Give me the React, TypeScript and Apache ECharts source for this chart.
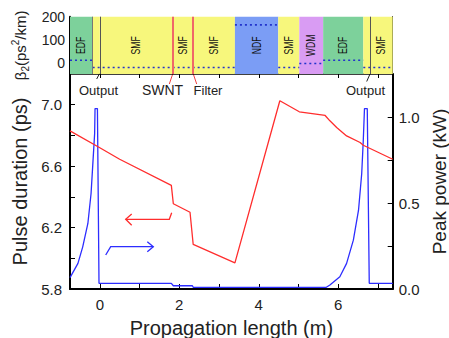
import React, { useEffect, useRef } from 'react';
import * as echarts from 'echarts';

// ---- axes ----
const X_MIN = -0.75;
const X_MAX = 7.37;
const xTicks = [0, 1, 2, 3, 4, 5, 6, 7];
const xLabels = [0, 2, 4, 6];
const durTicks = [5.8, 6.0, 6.2, 6.4, 6.6, 6.8, 7.0];
const durLabels = [5.8, 6.2, 6.6, 7.0];
const powTicks = [0, 0.25, 0.5, 0.75, 1.0];
const powLabels = [0, 0.5, 1.0];
const betaLabels = [0, 100, 200];
const betaTicksRight = [0, 50, 100, 150];

// ---- pulse duration (ps) ----
const pulseX = [-0.75, 0, 0.5, 1.8, 1.85, 2.27, 2.35, 3.4, 4.53, 5.02, 5.67, 5.79, 5.96, 6.21, 6.55, 6.63, 7.37];
const pulseY = [6.83, 6.72, 6.645, 6.475, 6.355, 6.3, 6.09, 5.97, 7.026, 6.954, 6.93, 6.895, 6.852, 6.797, 6.754, 6.736, 6.645];

// ---- peak power (kW) ----
const powerX = [-0.75, -0.55, -0.43, -0.3, -0.22, -0.18, -0.13, -0.12, -0.06, -0.02, 1.8, 1.85, 2.33, 2.35, 5.7, 5.79, 6.04, 6.21, 6.38, 6.51, 6.59, 6.63, 6.66, 6.73, 6.78, 7.37];
const powerY = [0.066, 0.149, 0.245, 0.381, 0.555, 0.71, 0.904, 1.049, 1.049, 0.033, 0.033, 0.019, 0.019, 0.01, 0.01, 0.023, 0.071, 0.149, 0.284, 0.458, 0.67, 0.865, 1.049, 1.049, 0.033, 0.033];

// ---- cavity map (top strip) ----
const segStart = [-0.75, -0.18, 0, 1.83, 2.35, 3.4, 4.49, 5.02, 5.62, 6.63, 6.8];
const segEnd = [-0.18, 0, 1.83, 2.35, 3.4, 4.49, 5.02, 5.62, 6.63, 6.8, 7.37];
const segFiber = ['EDF', 'SMF', 'SMF', 'SMF', 'SMF', 'NDF', 'SMF', 'WDM', 'EDF', 'SMF', 'SMF'];
const segLabel = ['EDF', '', 'SMF', 'SMF', 'SMF', 'NDF', 'SMF', 'WDM', 'EDF', '', 'SMF'];
const fiberNames = ['EDF', 'SMF', 'NDF', 'WDM'];
const fiberBeta2 = [14, -17, 165, 0];
const markerX = [-0.18, 0, 1.83, 2.35, 6.8];
const markerKind = ['edge', 'output', 'swnt', 'filter', 'output'];

const FONT = '"Liberation Sans", Arial, sans-serif';
const RED = '#ff2d2d';
const BLUE = '#2d2dff';
const fiberColor: Record<string, string> = {
  EDF: '#7dd19b',
  SMF: '#f7f77c',
  NDF: '#7b9df5',
  WDM: '#d99cf3',
};
const markerStyle: Record<string, { color: string; width: number }> = {
  edge: { color: '#777777', width: 1 },
  output: { color: '#555555', width: 1 },
  swnt: { color: '#f06868', width: 2 },
  filter: { color: '#f06868', width: 2 },
};

export default function App() {
  const ref = useRef<HTMLDivElement>(null);

  useEffect(() => {
    if (!ref.current) return;
    const chart = echarts.init(ref.current, undefined, { renderer: 'svg' });

    const pulseData = pulseX.map((x, i) => [x, pulseY[i]]);
    const powerData = powerX.map((x, i) => [x, powerY[i]]);
    const segData = segStart.map((s, i) => [s, segEnd[i], i]);

    const betaData: any[] = [];
    segStart.forEach((s, i) => {
      const b = fiberBeta2[fiberNames.indexOf(segFiber[i])];
      if (i > 0) {
        const pb = fiberBeta2[fiberNames.indexOf(segFiber[i - 1])];
        if (pb !== b) betaData.push([s, '-']);
      }
      betaData.push([s, b]);
      betaData.push([segEnd[i], b]);
    });

    const axisLineBlack = (w: number) => ({ show: true, onZero: false, lineStyle: { color: '#000', width: w } });

    const option: any = {
      animation: false,
      backgroundColor: '#fff',
      grid: [
        { left: 70, top: 74, width: 322.7, height: 215, containLabel: false, outerBoundsMode: 'none' },
        { left: 70, top: 16.7, width: 322.7, height: 57.3, containLabel: false, outerBoundsMode: 'none' },
      ],
      xAxis: [
        {
          type: 'value', gridIndex: 0, min: X_MIN, max: X_MAX, position: 'bottom',
          axisLine: axisLineBlack(2),
          axisTick: { show: true, inside: true, length: 5, customValues: xTicks, lineStyle: { color: '#000', width: 1 } },
          axisLabel: { show: true, customValues: xLabels, fontSize: 15, color: '#222', fontFamily: FONT, margin: 8 },
          splitLine: { show: false },
          name: 'Propagation length (m)', nameLocation: 'middle', nameGap: 29,
          nameTextStyle: { fontSize: 20, color: '#222', fontFamily: FONT },
        },
        {
          type: 'value', gridIndex: 0, min: X_MIN, max: X_MAX, position: 'top',
          axisLine: axisLineBlack(1.5),
          axisTick: { show: true, inside: true, length: 4, customValues: xTicks, lineStyle: { color: '#000', width: 1 } },
          axisLabel: { show: false },
          splitLine: { show: false },
        },
        {
          type: 'value', gridIndex: 1, min: X_MIN, max: X_MAX, show: false,
          splitLine: { show: false },
        },
      ],
      yAxis: [
        {
          type: 'value', gridIndex: 0, min: 5.8, max: 7.2, position: 'left',
          axisLine: axisLineBlack(2),
          axisTick: { show: true, inside: true, length: 5, customValues: durTicks, lineStyle: { color: '#000', width: 1 } },
          axisLabel: { show: true, customValues: durLabels, formatter: (v: number) => v.toFixed(1), fontSize: 15, color: '#222', fontFamily: FONT, margin: 8 },
          splitLine: { show: false },
          name: 'Pulse duration (ps)', nameLocation: 'middle', nameGap: 35,
          nameTextStyle: { fontSize: 20, color: '#222', fontFamily: FONT },
        },
        {
          type: 'value', gridIndex: 0, min: 0, max: 1.25, position: 'right',
          axisLine: axisLineBlack(2),
          axisTick: { show: true, inside: true, length: 5, customValues: powTicks, lineStyle: { color: '#000', width: 1 } },
          axisLabel: { show: true, customValues: powLabels, formatter: (v: number) => v.toFixed(1), fontSize: 15, color: '#222', fontFamily: FONT, margin: 6 },
          splitLine: { show: false },
          name: 'Peak power (kW)', nameLocation: 'middle', nameGap: 32,
          nameTextStyle: { fontSize: 19, color: '#222', fontFamily: FONT },
        },
        {
          type: 'value', gridIndex: 1, min: -45, max: 200, position: 'left',
          axisLine: axisLineBlack(2),
          axisTick: { show: false },
          axisLabel: { show: true, customValues: betaLabels, fontSize: 14, color: '#222', fontFamily: FONT, margin: 5 },
          splitLine: { show: false },
          name: '{a|β}{s|2}{a|(ps}{p|2}{a|/km)}', nameLocation: 'middle', nameGap: 33,
          nameTextStyle: {
            fontFamily: FONT, color: '#222',
            rich: {
              a: { fontSize: 15, fontFamily: FONT, color: '#222', lineHeight: 20, verticalAlign: 'middle' },
              s: { fontSize: 10, fontFamily: FONT, color: '#222', lineHeight: 20, verticalAlign: 'bottom' },
              p: { fontSize: 10, fontFamily: FONT, color: '#222', lineHeight: 20, verticalAlign: 'top' },
            },
          },
        },
        {
          type: 'value', gridIndex: 1, min: -45, max: 200, position: 'right',
          axisLine: axisLineBlack(1),
          axisTick: { show: true, inside: true, length: 3, customValues: betaTicksRight, lineStyle: { color: '#000', width: 1 } },
          axisLabel: { show: false },
          splitLine: { show: false },
        },
      ],
      series: [
        {
          type: 'custom', xAxisIndex: 2, yAxisIndex: 2, data: segData,
          encode: { x: [0, 1] },
          silent: true,
          renderItem: (params: any, api: any) => {
            const i = params.dataIndex;
            const cs = params.coordSys;
            const x0 = api.coord([api.value(0), 0])[0];
            const x1 = api.coord([api.value(1), 0])[0];
            const children: any[] = [
              { type: 'rect', shape: { x: x0, y: cs.y, width: x1 - x0, height: cs.height }, style: { fill: fiberColor[segFiber[i]] } },
            ];
            if (segLabel[i]) {
              children.push({
                type: 'text', x: (x0 + x1) / 2, y: cs.y + cs.height / 2, rotation: Math.PI / 2, scaleX: 0.72,
                style: { text: segLabel[i], fontSize: 12, fontFamily: FONT, fill: '#111', align: 'center', verticalAlign: 'middle' },
              });
            }
            return { type: 'group', children };
          },
        },
        {
          type: 'line', xAxisIndex: 2, yAxisIndex: 2, data: betaData,
          showSymbol: false, connectNulls: false, silent: true,
          lineStyle: { color: '#2233cc', width: 1.6, type: [2, 3] },
          markLine: {
            silent: true, symbol: 'none', label: { show: false },
            data: markerX.map((x, i) => ({
              xAxis: x,
              lineStyle: { color: markerStyle[markerKind[i]].color, width: markerStyle[markerKind[i]].width, type: 'solid' },
            })),
          },
        },
        {
          type: 'line', xAxisIndex: 0, yAxisIndex: 1, data: powerData,
          showSymbol: false, lineStyle: { color: BLUE, width: 1.3 }, silent: true,
        },
        {
          type: 'line', xAxisIndex: 0, yAxisIndex: 0, data: pulseData,
          showSymbol: false, lineStyle: { color: RED, width: 1.3 }, silent: true,
        },
      ],
      graphic: [
        { type: 'line', shape: { x1: 99.3, y1: 74, x2: 96.7, y2: 79 }, style: { stroke: '#222', lineWidth: 1 } },
        { type: 'line', shape: { x1: 172.7, y1: 74, x2: 169.3, y2: 84 }, style: { stroke: '#f04040', lineWidth: 1 } },
        { type: 'line', shape: { x1: 193.3, y1: 74, x2: 196.7, y2: 84 }, style: { stroke: '#f04040', lineWidth: 1 } },
        { type: 'line', shape: { x1: 370, y1: 74, x2: 366.7, y2: 81.5 }, style: { stroke: '#222', lineWidth: 1 } },
        { type: 'text', x: 98.5, y: 90, style: { text: 'Output', fontSize: 13, fontFamily: FONT, fill: '#222', align: 'center', verticalAlign: 'middle' } },
        { type: 'text', x: 162.5, y: 90, style: { text: 'SWNT', fontSize: 14, fontFamily: FONT, fill: '#222', align: 'center', verticalAlign: 'middle' } },
        { type: 'text', x: 208, y: 90, style: { text: 'Filter', fontSize: 13, fontFamily: FONT, fill: '#222', align: 'center', verticalAlign: 'middle' } },
        { type: 'text', x: 365.5, y: 90, style: { text: 'Output', fontSize: 13, fontFamily: FONT, fill: '#222', align: 'center', verticalAlign: 'middle' } },
        { type: 'polyline', shape: { points: [[171.7, 212.7], [169.3, 219.3], [125.7, 219.3]] }, style: { stroke: RED, lineWidth: 1.3, fill: 'none' } },
        { type: 'polyline', shape: { points: [[131.7, 214], [125.7, 219.3], [131.7, 225.2]] }, style: { stroke: RED, lineWidth: 1.3, fill: 'none' } },
        { type: 'polyline', shape: { points: [[105.7, 255], [110.7, 246.7], [153.3, 246.7]] }, style: { stroke: BLUE, lineWidth: 1.3, fill: 'none' } },
        { type: 'polyline', shape: { points: [[147.3, 241.7], [153.3, 246.7], [147.3, 251.7]] }, style: { stroke: BLUE, lineWidth: 1.3, fill: 'none' } },
      ],
    };

    chart.setOption(option);
    return () => chart.dispose();
  }, []);

  return (
    <div
      ref={ref}
      style={{ position: 'absolute', left: 0, top: 0, width: 449, height: 338, background: '#fff' }}
    />
  );
}
